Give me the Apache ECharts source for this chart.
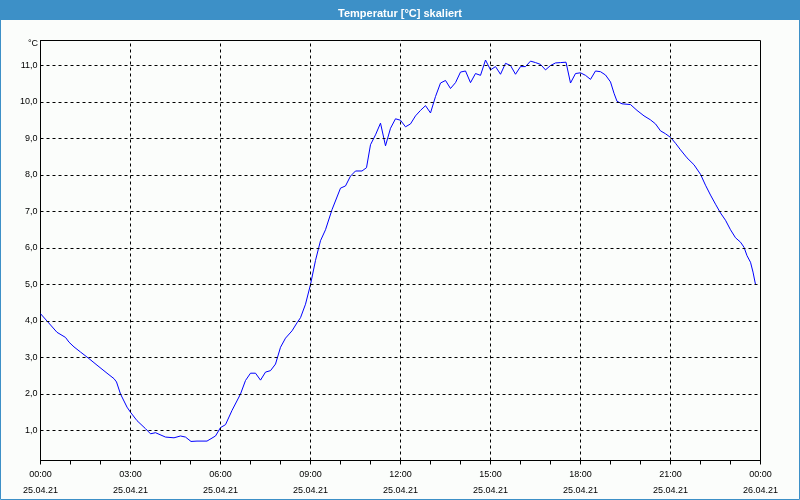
<!DOCTYPE html>
<html>
<head>
<meta charset="utf-8">
<script src="https://cdn.jsdelivr.net/npm/echarts@6/dist/echarts.min.js"></script>
<style>
html,body{margin:0;padding:0;background:#fbfdfb;}
#chart{width:800px;height:500px;}
</style>
</head>
<body>
<div id="chart"></div>
<script>
// Minutes since 00:00 on 25.04.21
const times = [0,13,33,50,57,67,80,97,113,133,147,152,160,173,180,193,210,220,230,250,267,280,290,301,313,333,350,360,370,383,400,410,420,430,440,450,460,470,480,490,503,513,520,530,540,550,560,570,583,600,610,620,630,643,652,660,670,680,690,700,710,720,730,740,750,760,770,780,790,800,810,820,830,840,850,860,870,880,890,900,910,920,930,940,950,960,970,980,990,1000,1010,1020,1030,1040,1051,1060,1070,1080,1090,1100,1110,1120,1130,1140,1147,1153,1163,1180,1193,1207,1220,1230,1240,1250,1260,1270,1280,1293,1307,1320,1330,1340,1350,1360,1370,1380,1390,1400,1407,1413,1420,1425,1430];
// Temperature in °C
const temps = [4.2,4.0,3.69,3.55,3.42,3.29,3.15,2.97,2.79,2.57,2.42,2.33,2.0,1.64,1.5,1.27,1.05,0.91,0.94,0.82,0.80,0.85,0.82,0.70,0.71,0.71,0.85,1.08,1.16,1.55,2.0,2.37,2.57,2.57,2.38,2.6,2.64,2.82,3.28,3.53,3.73,3.95,4.09,4.46,5.0,5.66,6.2,6.5,7.05,7.64,7.7,7.97,8.11,8.11,8.2,8.83,9.1,9.42,8.8,9.28,9.54,9.5,9.32,9.4,9.62,9.77,9.9,9.7,10.15,10.52,10.59,10.37,10.53,10.82,10.85,10.53,10.78,10.73,11.15,10.88,10.97,10.76,11.06,11.0,10.76,10.97,10.97,11.12,11.08,11.03,10.88,11.0,11.07,11.08,11.09,10.52,10.78,10.8,10.73,10.62,10.85,10.83,10.74,10.55,10.24,10.02,9.95,9.93,9.77,9.62,9.51,9.4,9.21,9.13,9.03,8.87,8.69,8.47,8.28,8.02,7.72,7.45,7.2,6.96,6.76,6.5,6.28,6.16,6.02,5.79,5.61,5.34,5.0];

const xLabelValues = [0,180,360,540,720,900,1080,1260,1440];
const xLabelTimes = ['00:00','03:00','06:00','09:00','12:00','15:00','18:00','21:00','00:00'];
const xLabelDates = ['25.04.21','25.04.21','25.04.21','25.04.21','25.04.21','25.04.21','25.04.21','25.04.21','26.04.21'];
const yTickValues = [1,2,3,4,5,6,7,8,9,10,11];
const yTickLabels = ['1,0','2,0','3,0','4,0','5,0','6,0','7,0','8,0','9,0','10,0','11,0'];

const FONT = 'Liberation Sans';
const chart = echarts.init(document.getElementById('chart'), null, {renderer:'canvas'});

const gridLines = [];
xLabelValues.slice(1, -1).forEach(v => gridLines.push({xAxis: v}));
yTickValues.forEach(v => gridLines.push({yAxis: v}));

chart.setOption({
  animation: false,
  backgroundColor: '#fbfdfb',
  graphic: [
    {type:'rect', z: 0, shape:{x:0.5,y:0.5,width:799,height:499}, style:{fill:'none', stroke:'#3d90c7', lineWidth:1}},
    {type:'rect', z: 1, shape:{x:0,y:0,width:800,height:20}, style:{fill:'#3d90c7'}}
  ],
  title: [
    {text:'Temperatur [°C] skaliert', left:'center', top:3, textStyle:{color:'#fff', fontFamily:FONT, fontWeight:'bold', fontSize:11}, z: 5},
    {text:'°C', right: 762, top: 39, textStyle:{color:'#000', fontFamily:FONT, fontWeight:'normal', fontSize:9}, padding:0}
  ],
  grid: {left:40.5, right:39.5, top:40.5, bottom:39.5, show:true, borderColor:'#000', borderWidth:1, backgroundColor:'#fbfdfb'},
  xAxis: {
    type:'value', min:0, max:1440, interval:60,
    axisLine:{show:true, lineStyle:{color:'#000'}},
    axisTick:{show:true, length:4, lineStyle:{color:'#000'}},
    splitLine:{show:false},
    axisLabel:{
      color:'#000', fontFamily:FONT, fontSize:9, lineHeight:16, margin:6,
      formatter: v => {
        const i = xLabelValues.indexOf(v);
        return i < 0 ? '' : xLabelTimes[i] + '\n' + xLabelDates[i];
      }
    }
  },
  yAxis: {
    type:'value', min: 1 - 30/36.5, max: 11 + 25/36.5,
    axisLine:{show:true, lineStyle:{color:'#000'}},
    axisTick:{show:false},
    splitLine:{show:false},
    axisLabel:{
      color:'#000', fontFamily:FONT, fontSize:9, margin:3,
      customValues: yTickValues,
      formatter: v => {
        const i = yTickValues.findIndex(t => Math.abs(t - v) < 1e-6);
        return i < 0 ? '' : yTickLabels[i];
      }
    }
  },
  series: [
    {
      type:'line', data: [], silent:true, z: 1,
      markLine: {silent:true, symbol:['none','none'], label:{show:false},
        lineStyle:{color:'#000', type:[3,3], width:1}, data: gridLines, animation:false}
    },
    {
      type:'line', z: 3, showSymbol:false, symbol:'none',
      lineStyle:{color:'#0000ff', width:1},
      data: times.map((t, i) => [t, temps[i]])
    }
  ]
});
</script>
</body>
</html>
